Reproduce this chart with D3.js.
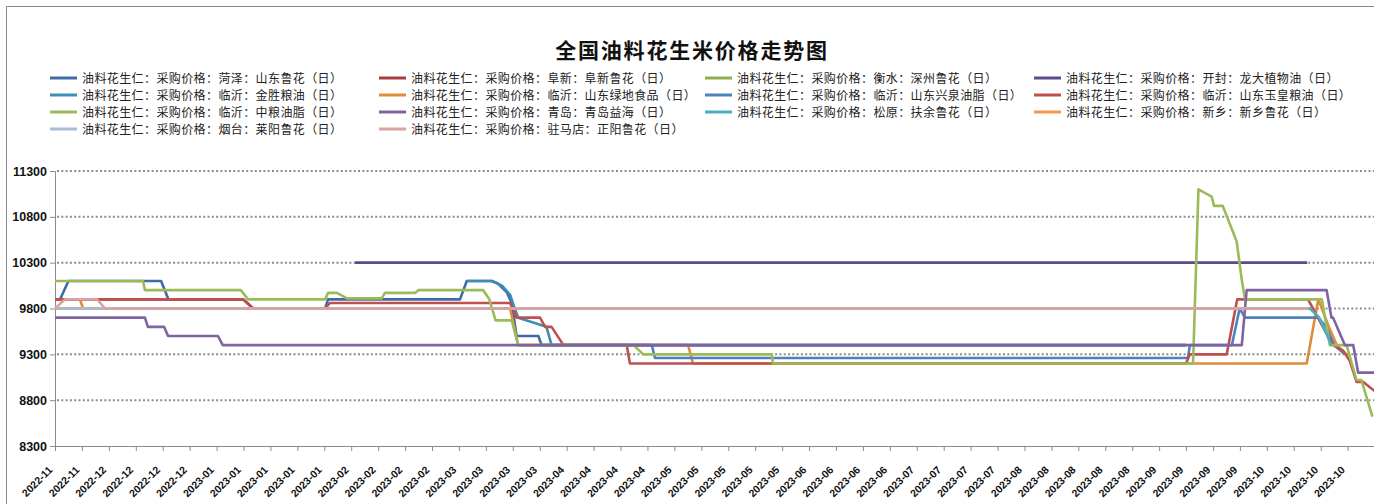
<!DOCTYPE html>
<html><head><meta charset="utf-8">
<script src="https://cdn.jsdelivr.net/npm/d3@7/dist/d3.min.js"></script>
<style>
html,body{margin:0;padding:0;background:#fff;}
svg{display:block;}
</style></head>
<body>
<svg id="c" width="1374" height="504"></svg>
<script>
// ---------- data ----------
const title = "全国油料花生米价格走势图";
const xLabels = ["2022-11","2022-11","2022-12","2022-12","2022-12","2022-12",
 "2023-01","2023-01","2023-01","2023-01","2023-01","2023-02","2023-02","2023-02","2023-02",
 "2023-03","2023-03","2023-03","2023-03","2023-04","2023-04","2023-04","2023-04",
 "2023-05","2023-05","2023-05","2023-05","2023-05","2023-06","2023-06","2023-06","2023-06",
 "2023-07","2023-07","2023-07","2023-07","2023-08","2023-08","2023-08","2023-08","2023-08",
 "2023-09","2023-09","2023-09","2023-09","2023-10","2023-10","2023-10","2023-10"];
const yTicks = [8300, 8800, 9300, 9800, 10300, 10800, 11300];

const seriesNames = [
 "油料花生仁：采购价格：菏泽：山东鲁花（日）",
 "油料花生仁：采购价格：阜新：阜新鲁花（日）",
 "油料花生仁：采购价格：衡水：深州鲁花（日）",
 "油料花生仁：采购价格：开封：龙大植物油（日）",
 "油料花生仁：采购价格：临沂：金胜粮油（日）",
 "油料花生仁：采购价格：临沂：山东绿地食品（日）",
 "油料花生仁：采购价格：临沂：山东兴泉油脂（日）",
 "油料花生仁：采购价格：临沂：山东玉皇粮油（日）",
 "油料花生仁：采购价格：临沂：中粮油脂（日）",
 "油料花生仁：采购价格：青岛：青岛益海（日）",
 "油料花生仁：采购价格：松原：扶余鲁花（日）",
 "油料花生仁：采购价格：新乡：新乡鲁花（日）",
 "油料花生仁：采购价格：烟台：莱阳鲁花（日）",
 "油料花生仁：采购价格：驻马店：正阳鲁花（日）"
];

// [position on week axis, price]
const heze = [[0,9900],[0.19,9900],[0.5,10100],[3.94,10100],[4.21,9900],[6.99,9900],[7.36,9800],[10.03,9800],[10.14,9900],[15.04,9900],[15.29,10100],[16.22,10100],[16.46,10070],[16.77,9980],[16.96,9860],[17.14,9500],[17.95,9500],[18.07,9400],[42.0,9400]];
const fuxin = [[0,9900],[6.99,9900],[7.36,9800],[46.53,9800]];
const shenzhou = [[0,9800],[46.53,9800]];
const longda = [[11.14,10300],[46.5,10300]];
const jinsheng = [[15.29,10100],[16.22,10100],[16.6,10050],[16.9,9950],[17.05,9820],[17.2,9700],[18.25,9600],[18.44,9400],[42.0,9400]];
const lvdi = [[0,9900],[0.93,9900],[1.04,9800],[16.9,9800],[17.2,9400],[23.51,9400],[23.69,9200],[46.48,9200],[46.91,9900],[47.3,9600],[47.6,9400],[47.96,9300]];
const xingquan = [[18.07,9400],[22.16,9400],[22.28,9260],[42.07,9260],[42.14,9400],[43.7,9400],[43.99,9800],[44.19,9700],[46.91,9700],[47.2,9600],[47.5,9400],[47.9,9300]];
const yuhuang = [[0,9900],[6.99,9900],[7.36,9800],[10.03,9800],[10.21,9860],[16.9,9860],[17.14,9700],[18.01,9700],[18.2,9600],[18.44,9600],[18.88,9400],[21.23,9400],[21.35,9200],[42.0,9200],[42.14,9300],[43.51,9300],[43.9,9900],[46.53,9900],[47.08,9600],[47.46,9400],[47.83,9340],[48.08,9230],[48.33,9000],[48.57,9000],[49,8900]];
const zhongliang = [[0,10100],[3.27,10100],[3.34,10000],[6.9,10000],[7.17,9900],[10.03,9900],[10.14,9970],[10.47,9970],[10.84,9910],[12.13,9910],[12.25,9970],[13.37,9970],[13.49,10000],[15.9,10000],[16.13,9900],[16.36,9670],[16.96,9670],[17.2,9400],[21.48,9400],[21.85,9300],[26.62,9300],[26.66,9200],[42.26,9200],[42.46,11100],[42.95,11020],[43.04,10920],[43.36,10920],[43.88,10530],[44.07,10110],[44.19,9900],[47.04,9900],[47.34,9400],[47.96,9400],[48.33,9020],[48.51,9020],[48.92,8620]];
const qingdao = [[0,9700],[3.34,9700],[3.45,9600],[4.05,9600],[4.2,9500],[6.05,9500],[6.23,9400],[44.07,9400],[44.25,10000],[47.22,10000],[47.4,9700],[47.46,9700],[47.9,9400],[48.21,9400],[48.39,9100],[49,9100]];
const fuyu = [[0,9800],[46.6,9800],[46.95,9700],[47.4,9400]];
const xinxiang = [[0,9800],[46.53,9800]];
const laiyang = [[0,9800],[46.53,9800]];
const zhengyang = [[0,9800],[0.37,9900],[1.56,9900],[1.86,9800],[46.53,9800]];

const seriesData = [heze, fuxin, shenzhou, longda, jinsheng, lvdi, xingquan, yuhuang, zhongliang, qingdao, fuyu, xinxiang, laiyang, zhengyang];
const seriesColors = ["#3f6ca8","#a93d3b","#8fae4c","#5d4b8c","#3b8fb6","#e08a3a","#4f81bd","#c0504d","#9bbb59","#8064a2","#4bacc6","#f79646","#a9bcda","#d7a3a3"];

// ---------- drawing ----------
const svg = d3.select("#c");
const W = 1374, H = 504;
const x = d3.scaleLinear().domain([0, 49]).range([55, 55 + 49 * 26.93]);
const y = d3.scaleLinear().domain([8300, 11300]).range([446, 171]);

svg.append("rect").attr("width", W).attr("height", H).attr("fill", "#fff");
// frame
svg.append("path").attr("d", `M6.5,${H} V6.5 H${W}`).attr("fill", "none").attr("stroke", "#8a8a8a").attr("stroke-width", 1);

// title
svg.append("text").attr("x", 692).attr("y", 58).attr("text-anchor", "middle")
 .attr("font-family", "'Noto Sans CJK SC'").attr("font-weight", "bold").attr("font-size", 21)
 .attr("letter-spacing", 1.8).attr("fill", "#111").text(title);

// legend
const legCols = [50, 379, 705, 1034];
const legRows = [78, 95, 112, 129];
const leg = svg.append("g");
seriesNames.forEach((n, i) => {
  const cx = legCols[i % 4], cy = legRows[Math.floor(i / 4)];
  const g = leg.append("g").attr("transform", `translate(${cx},${cy})`);
  g.append("line").attr("x1", 0).attr("x2", 27).attr("y1", 0).attr("y2", 0)
   .attr("stroke", seriesColors[i]).attr("stroke-width", 3);
  g.append("text").attr("x", 32).attr("y", 4.5)
   .attr("font-family", "'Noto Sans CJK SC'").attr("font-size", 12).attr("letter-spacing", 0.4)
   .attr("fill", "#222").text(n);
});

// gridlines
svg.append("g").selectAll("line").data(yTicks.filter(d => d > 8300)).join("line")
 .attr("x1", 57).attr("x2", W).attr("y1", d => y(d)).attr("y2", d => y(d))
 .attr("stroke", "#8c8c8c").attr("stroke-width", 2).attr("stroke-dasharray", "2,2.3");

// y axis
const yAxis = d3.axisLeft(y).tickValues(yTicks).tickSize(5).tickFormat(d3.format("d"));
const gy = svg.append("g").attr("transform", "translate(55,0)").call(yAxis);
gy.select(".domain").attr("stroke", "#8c8c8c");
gy.selectAll(".tick line").attr("stroke", "#8c8c8c");
gy.selectAll(".tick text").attr("font-family", "'Liberation Sans',Arial").attr("font-weight", "bold")
 .attr("font-size", 12.5).attr("fill", "#111").attr("x", -8);

// x axis
const xAxis = d3.axisBottom(x).tickValues(d3.range(0, 49)).tickSize(5).tickFormat(i => xLabels[i]);
const gx = svg.append("g").attr("transform", "translate(0,446)").call(xAxis);
gx.select(".domain").attr("stroke", "#8c8c8c");
gx.selectAll(".tick line").attr("stroke", "#8c8c8c");
gx.selectAll(".tick text").attr("font-family", "'Liberation Sans',Arial").attr("font-weight", "bold")
 .attr("font-size", 10.5).attr("fill", "#111")
 .attr("text-anchor", "end").attr("dy", "0.35em").attr("y", 0)
 .attr("transform", "translate(-5,22) rotate(-45)");

// lines
const line = d3.line().x(d => x(d[0])).y(d => y(d[1]));
svg.append("g").selectAll("path").data(seriesData).join("path")
 .attr("d", d => line(d)).attr("fill", "none")
 .attr("stroke", (d, i) => seriesColors[i]).attr("stroke-width", 2.6)
 .attr("stroke-linejoin", "round").attr("stroke-linecap", "butt");
</script>
</body></html>
